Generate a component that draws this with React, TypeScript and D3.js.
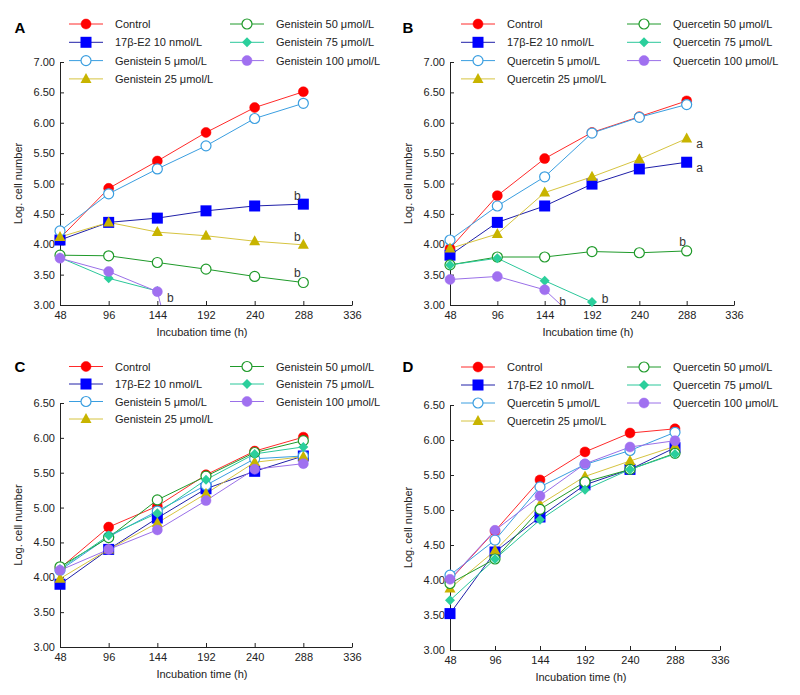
import { useRef, useEffect } from 'react';
import * as d3 from 'd3';

const hours = [48, 96, 144, 192, 240, 288];
const xTicks = [48, 96, 144, 192, 240, 288, 336];

// panel A - genistein
const controlA = [4.1, 4.92, 5.37, 5.84, 6.25, 6.51];
const e2A = [4.07, 4.36, 4.43, 4.55, 4.63, 4.66];
const gen5A = [4.22, 4.83, 5.24, 5.62, 6.07, 6.32];
const gen25A = [4.12, 4.36, 4.2, 4.14, 4.05, 3.99];
const gen50A = [3.82, 3.81, 3.7, 3.59, 3.47, 3.37];
const gen75A = [3.78, 3.44, 3.23, NaN, NaN, NaN];
const gen100A = [3.77, 3.55, 3.22, 0.1, NaN, NaN];

// panel B - quercetin
const controlB = [3.93, 4.8, 5.41, 5.84, 6.1, 6.36];
const e2B = [3.82, 4.36, 4.63, 4.99, 5.24, 5.35];
const q5B = [4.07, 4.63, 5.11, 5.83, 6.09, 6.3];
const q25B = [3.93, 4.17, 4.85, 5.11, 5.4, 5.74];
const q50B = [3.66, 3.79, 3.79, 3.88, 3.86, 3.89];
const q75B = [3.66, 3.77, 3.4, 3.05, NaN, NaN];
const q100B = [3.42, 3.47, 3.25, 2.53, NaN, NaN];

// panel C - genistein
const controlC = [4.13, 4.72, 5.02, 5.47, 5.81, 6.01];
const e2C = [3.9, 4.4, 4.85, 5.27, 5.52, 5.74];
const gen5C = [4.1, 4.58, 4.95, 5.32, 5.7, 5.74];
const gen25C = [3.98, 4.4, 4.78, 5.2, 5.65, 5.73];
const gen50C = [4.15, 4.57, 5.11, 5.45, 5.79, 5.96];
const gen75C = [4.12, 4.6, 4.92, 5.4, 5.77, 5.87];
const gen100C = [4.1, 4.4, 4.68, 5.1, 5.55, 5.63];

// panel D - quercetin
const controlD = [4.0, 4.7, 5.43, 5.83, 6.1, 6.16];
const e2D = [3.52, 4.4, 4.9, 5.36, 5.58, 5.89];
const q5D = [4.07, 4.57, 5.33, 5.65, 5.85, 6.11];
const q25D = [3.88, 4.42, 5.08, 5.48, 5.7, 5.91];
const q50D = [3.95, 4.3, 5.01, 5.4, 5.58, 5.81];
const q75D = [3.71, 4.3, 4.86, 5.29, 5.58, 5.8];
const q100D = [4.01, 4.71, 5.2, 5.66, 5.9, 5.99];

const genisteinNames = [
  'Control',
  '17β-E2 10 nmol/L',
  'Genistein 5 μmol/L',
  'Genistein 25 μmol/L',
  'Genistein 50 μmol/L',
  'Genistein 75 μmol/L',
  'Genistein 100 μmol/L',
];
const quercetinNames = [
  'Control',
  '17β-E2 10 nmol/L',
  'Quercetin 5 μmol/L',
  'Quercetin 25 μmol/L',
  'Quercetin 50 μmol/L',
  'Quercetin 75 μmol/L',
  'Quercetin 100 μmol/L',
];

// significance letters: series index, point index, text
const notesA = [
  { s: 1, i: 5, t: 'b', dx: -6, dy: -8 },
  { s: 3, i: 5, t: 'b', dx: -6, dy: -8 },
  { s: 4, i: 5, t: 'b', dx: -6, dy: -10 },
  { s: 6, i: 2, t: 'b', dx: 13, dy: 6 },
];
const notesB = [
  { s: 3, i: 5, t: 'a', dx: 13, dy: 5 },
  { s: 1, i: 5, t: 'a', dx: 13, dy: 6 },
  { s: 4, i: 5, t: 'b', dx: -4, dy: -9 },
  { s: 5, i: 3, t: 'b', dx: 13, dy: -3 },
  { s: 6, i: 2, t: 'b', dx: 18, dy: 12 },
];

const styles = [
  { kind: 'circle', color: '#ff0000', line: '#ff2a2a', open: false },
  { kind: 'square', color: '#0000ff', line: '#2020a8', open: false },
  { kind: 'circle', color: '#3a9ee0', line: '#3a9ee0', open: true },
  { kind: 'triangle', color: '#c8b400', line: '#d6c440', open: false },
  { kind: 'circle', color: '#1f9a2a', line: '#1f9a2a', open: true },
  { kind: 'diamond', color: '#2bcf9c', line: '#2bc79a', open: false },
  { kind: 'circle', color: '#a070f0', line: '#9a70e8', open: false },
];

const panels = [
  {
    id: 'A', letterX: 20, letterY: 27, names: genisteinNames,
    series: [controlA, e2A, gen5A, gen25A, gen50A, gen75A, gen100A],
    yMax: 7, left: 60, right: 352, top: 62, bottom: 305,
    legendX: 69, legendY: 24, legendStep: 18.3, colGap: 161, notes: notesA,
  },
  {
    id: 'B', letterX: 408, letterY: 27, names: quercetinNames,
    series: [controlB, e2B, q5B, q25B, q50B, q75B, q100B],
    yMax: 7, left: 450, right: 734, top: 62, bottom: 305,
    legendX: 461, legendY: 24, legendStep: 18.3, colGap: 166, notes: notesB,
  },
  {
    id: 'C', letterX: 20, letterY: 366, names: genisteinNames,
    series: [controlC, e2C, gen5C, gen25C, gen50C, gen75C, gen100C],
    yMax: 6.5, left: 60, right: 352, top: 403, bottom: 647,
    legendX: 69, legendY: 366.5, legendStep: 17.5, colGap: 161, notes: [],
  },
  {
    id: 'D', letterX: 408, letterY: 366, names: quercetinNames,
    series: [controlD, e2D, q5D, q25D, q50D, q75D, q100D],
    yMax: 6.5, left: 450, right: 720, top: 405, bottom: 650,
    legendX: 461, legendY: 367, legendStep: 18, colGap: 166, notes: [],
  },
];

const FONT = "'Liberation Sans', Arial, sans-serif";

function drawMarker(g, st, x, y) {
  if (st.kind === 'circle') {
    g.append('circle')
      .attr('cx', x)
      .attr('cy', y)
      .attr('r', 5)
      .attr('fill', st.open ? '#fff' : st.color)
      .attr('stroke', st.color)
      .attr('stroke-width', st.open ? 1.2 : 0.5);
  } else if (st.kind === 'square') {
    g.append('rect')
      .attr('x', x - 5.5)
      .attr('y', y - 5.5)
      .attr('width', 11)
      .attr('height', 11)
      .attr('fill', st.color);
  } else if (st.kind === 'triangle') {
    g.append('path')
      .attr('d', `M${x},${y - 6}L${x + 5.5},${y + 4}L${x - 5.5},${y + 4}Z`)
      .attr('fill', st.color);
  } else {
    g.append('path')
      .attr('d', `M${x},${y - 5}L${x + 5},${y}L${x},${y + 5}L${x - 5},${y}Z`)
      .attr('fill', st.color);
  }
}

function drawPanel(svg, p) {
  const g = svg.append('g');
  const x = d3.scaleLinear().domain([48, 336]).range([p.left, p.right]);
  const y = d3.scaleLinear().domain([3, p.yMax]).range([p.bottom, p.top]);

  const yTicks = d3.range(3, p.yMax + 0.01, 0.5);
  const yAxis = d3
    .axisLeft(y)
    .tickValues(yTicks)
    .tickFormat(d3.format('.2f'))
    .tickSizeInner(-4)
    .tickSizeOuter(0)
    .tickPadding(5);
  g.append('g').attr('transform', `translate(${p.left},0)`).call(yAxis);

  const xAxis = d3
    .axisBottom(x)
    .tickValues(xTicks)
    .tickFormat(d3.format('d'))
    .tickSizeInner(-4)
    .tickSizeOuter(0)
    .tickPadding(6);
  g.append('g').attr('transform', `translate(0,${p.bottom})`).call(xAxis);

  g.selectAll('.tick text')
    .attr('font-family', FONT)
    .attr('font-size', 11)
    .attr('fill', '#222');
  g.selectAll('.domain, .tick line').attr('stroke', '#222');

  g.append('text')
    .attr('x', (p.left + p.right) / 2 - 4)
    .attr('y', p.bottom + 31)
    .attr('text-anchor', 'middle')
    .attr('font-family', FONT)
    .attr('font-size', 11)
    .attr('fill', '#222')
    .text('Incubation time (h)');

  g.append('text')
    .attr('transform', `translate(${p.left - 42},${(p.top + p.bottom) / 2}) rotate(-90)`)
    .attr('text-anchor', 'middle')
    .attr('dominant-baseline', 'central')
    .attr('font-family', FONT)
    .attr('font-size', 11)
    .attr('fill', '#222')
    .text('Log. cell number');

  g.append('text')
    .attr('x', p.letterX)
    .attr('y', p.letterY)
    .attr('text-anchor', 'middle')
    .attr('dominant-baseline', 'central')
    .attr('font-family', FONT)
    .attr('font-weight', 'bold')
    .attr('font-size', 15)
    .text(p.id);

  // lines clipped to plot area
  const clipId = 'clip' + p.id;
  g.append('clipPath')
    .attr('id', clipId)
    .append('rect')
    .attr('x', p.left)
    .attr('y', p.top - 20)
    .attr('width', p.right - p.left)
    .attr('height', p.bottom - p.top + 20);

  const line = d3
    .line()
    .defined((d) => !isNaN(d[1]))
    .x((d) => x(d[0]))
    .y((d) => y(d[1]));

  p.series.forEach((vals, si) => {
    const st = styles[si];
    const pts = hours.map((h, i) => [h, vals[i]]);
    g.append('path')
      .datum(pts)
      .attr('clip-path', `url(#${clipId})`)
      .attr('d', line)
      .attr('fill', 'none')
      .attr('stroke', st.line)
      .attr('stroke-width', 1);
  });

  p.series.forEach((vals, si) => {
    const st = styles[si];
    hours.forEach((h, i) => {
      const v = vals[i];
      if (isNaN(v) || v < 3) return;
      drawMarker(g, st, x(h), y(v));
    });
  });

  p.notes.forEach((n) => {
    g.append('text')
      .attr('x', x(hours[n.i]) + n.dx)
      .attr('y', y(p.series[n.s][n.i]) + n.dy)
      .attr('text-anchor', 'middle')
      .attr('dominant-baseline', 'central')
      .attr('font-family', FONT)
      .attr('font-size', 12)
      .attr('fill', '#333')
      .text(n.t);
  });

  // legend, 4 rows left then 3 rows right
  p.names.forEach((name, k) => {
    const col = k < 4 ? 0 : 1;
    const row = k < 4 ? k : k - 4;
    const lx = p.legendX + col * p.colGap;
    const ly = p.legendY + row * p.legendStep;
    const st = styles[k];
    g.append('line')
      .attr('x1', lx)
      .attr('x2', lx + 34)
      .attr('y1', ly)
      .attr('y2', ly)
      .attr('stroke', st.line)
      .attr('stroke-width', 1);
    drawMarker(g, st, lx + 17, ly);
    g.append('text')
      .attr('x', lx + 46)
      .attr('y', ly)
      .attr('dominant-baseline', 'central')
      .attr('font-family', FONT)
      .attr('font-size', 11)
      .attr('fill', '#222')
      .text(name);
  });
}

export default function App() {
  const svgRef = useRef(null);

  useEffect(() => {
    document.body.style.margin = '0';
    const svg = d3.select(svgRef.current);
    svg.selectAll('*').remove();
    panels.forEach((p) => drawPanel(svg, p));
  }, []);

  return (
    <svg
      ref={svgRef}
      width={800}
      height={695}
      style={{ display: 'block', background: '#fff' }}
    ></svg>
  );
}
